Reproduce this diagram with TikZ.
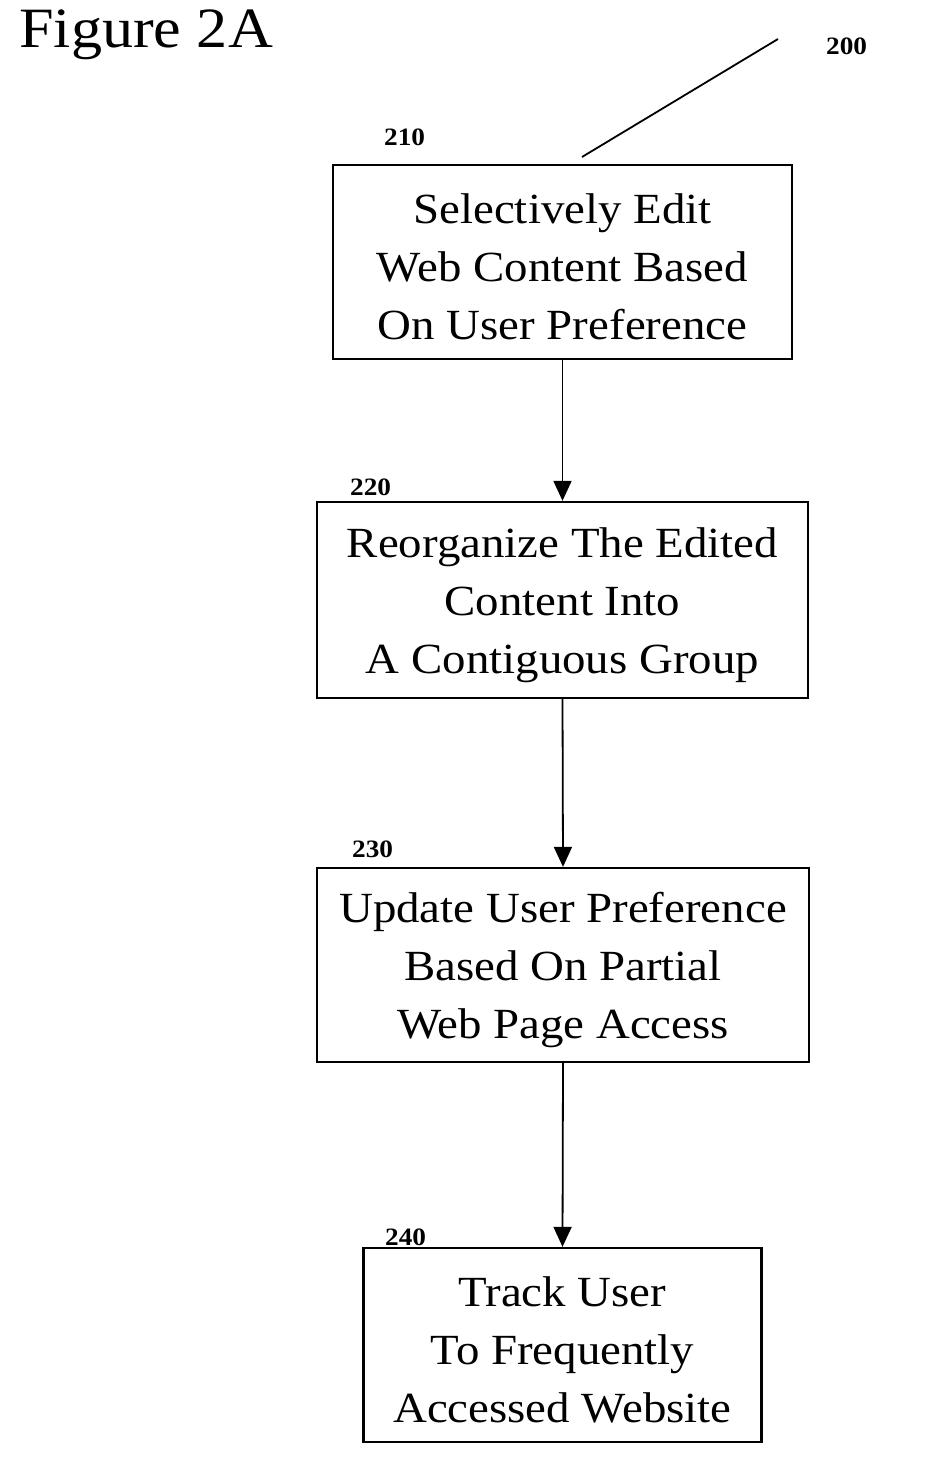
\documentclass[tikz,border=0pt]{standalone}
\usepackage{fontspec}
\setmainfont{Liberation Serif}[FakeStretch=1.09]
\usetikzlibrary{arrows.meta}
\newcommand{\toppad}{\rule{0pt}{40pt}}
\begin{document}
\begin{tikzpicture}[x=1pt,y=-1pt,
  stepbox/.style={draw,line width=2.3pt,inner sep=0pt,align=center,
    font=\fontsize{43}{58}\selectfont},
  reflabel/.style={anchor=base west,inner sep=0pt,font=\bfseries\fontsize{25}{30}\selectfont},
  flow/.style={line width=1.8pt,-{Triangle[width=18pt,length=20pt]}}]
\useasboundingbox (0,0) rectangle (946,1464);
\node[anchor=base west,inner sep=0pt,font=\fontsize{57}{60}\selectfont] (title) at (19,48) {Figure 2A};
\node[reflabel] (l200) at (826,55) {200};
\node[reflabel] (l210) at (384,145) {210};
\node[reflabel] (l220) at (350,495) {220};
\node[reflabel] (l230) at (352,857) {230};
\node[reflabel] (l240) at (385,1245) {240};
\node[stepbox,minimum width=459pt,minimum height=194pt] (b210) at (562.5,262) {\toppad Selectively Edit\\Web Content Based\\On User Preference};
\node[stepbox,minimum width=491pt,minimum height=196pt] (b220) at (562.5,600) {\toppad Reorganize The Edited\\Content Into\\A Contiguous Group};
\node[stepbox,minimum width=492pt,minimum height=194pt] (b230) at (563,965) {\toppad Update User Preference\\Based On Partial\\Web Page Access};
\node[stepbox,minimum width=398pt,minimum height=194pt] (b240) at (562.5,1345) {\toppad Track User\\To Frequently\\Accessed Website};
\coordinate (leadA) at (778,39);
\coordinate (leadB) at (582,157);
\draw[line width=1.8pt] (leadA) -- (leadB);
\draw[flow] (b210.south) -- (b220.north);
\draw[flow] (b220.south) -- (b230.north);
\draw[flow] (b230.south) -- (b240.north);
\end{tikzpicture}
\end{document}
